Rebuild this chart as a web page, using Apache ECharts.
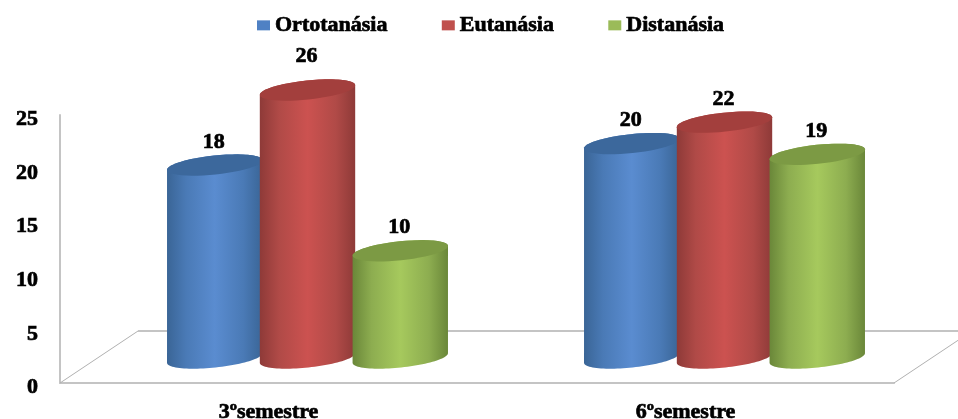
<!DOCTYPE html>
<html>
<head>
<meta charset="utf-8">
<style>
html,body{margin:0;padding:0;background:#fff}
#c{width:958px;height:419px;filter:blur(0.6px)}
</style>
<script src="https://cdn.jsdelivr.net/npm/echarts@6/dist/echarts.min.js"></script>
</head>
<body>
<div id="c"></div>
<script>
const categories = ['3ºsemestre', '6ºsemestre'];
const seriesNames = ['Ortotanásia', 'Eutanásia', 'Distanásia'];
const ortotanasia = [18, 20];
const eutanasia = [26, 22];
const distanasia = [10, 19];
const yTicks = { min: 0, max: 25, interval: 5 };

const FONT = '"Liberation Serif", serif';
const palette = [
  { solid: '#4f81c4', top: '#3c689c', edge: '#3a6596', mid: '#4a7ab6', light: '#5a8cd0' },
  { solid: '#c0504d', top: '#a33f3d', edge: '#8e3a38', mid: '#b04a47', light: '#cc5250' },
  { solid: '#9bbb59', top: '#7c9a44', edge: '#6a8739', mid: '#8dad50', light: '#a6c95d' }
];
const DEPTH_X = 39, DEPTH_Y = -25, THETA = -6 * Math.PI / 180;
const HEAVY = { textBorderColor: '#000', textBorderWidth: 0.7 };

const chart = echarts.init(document.getElementById('c'), null, { renderer: 'canvas' });

function ellPoint(cx, cy, rx, ry, t) {
  const c = Math.cos(t), s = Math.sin(t);
  return [cx + rx * c * Math.cos(THETA) - ry * s * Math.sin(THETA),
          cy + rx * c * Math.sin(THETA) + ry * s * Math.cos(THETA)];
}
function ellipsePts(cx, cy, rx, ry, a, b) {
  const pts = [];
  for (let i = 0; i <= 48; i++) pts.push(ellPoint(cx, cy, rx, ry, a + (b - a) * i / 48));
  return pts;
}

function cylinder(seriesIdx) {
  return function (params, api) {
    const cat = api.value(0), val = api.value(1);
    const catW = api.size([1, 0])[0];
    const clipped = Math.min(val, yTicks.max);
    const base = api.coord([cat, 0]);
    const topC = api.coord([cat, clipped]);
    const raw = api.coord([cat, val]);
    const cx = base[0] + DEPTH_X + (seriesIdx - 1) * catW * 0.2225;
    const rx = catW * 0.115, ry = 9.5;
    const by = base[1] + DEPTH_Y, ty = topC[1] + DEPTH_Y;
    const p = palette[seriesIdx];
    const lower = ellipsePts(cx, by, rx, ry, 0, Math.PI);
    const upper = ellipsePts(cx, ty, rx, ry, Math.PI, 2 * Math.PI);
    const body = lower.concat(upper);
    const grad = new echarts.graphic.LinearGradient(0, 0, 1, 0, [
      { offset: 0, color: p.edge }, { offset: 0.2, color: p.mid },
      { offset: 0.5, color: p.light }, { offset: 0.8, color: p.mid },
      { offset: 1, color: p.edge }
    ]);
    return {
      type: 'group',
      children: [
        { type: 'polygon', shape: { points: body }, style: { fill: grad } },
        { type: 'polygon', shape: { points: ellipsePts(cx, ty, rx, ry, 0, 2 * Math.PI) }, style: { fill: p.top } },
        { type: 'text', style: {
            text: String(val), x: cx - 1, y: raw[1] - 48,
            align: 'center', verticalAlign: 'middle',
            font: 'bold 22px ' + FONT, fill: '#000', stroke: '#000', lineWidth: 0.7
        } }
      ]
    };
  };
}

function floor(params) {
  const g = params.coordSys;
  const x0 = g.x, x1 = g.x + g.width, y0 = g.y + g.height;
  const bx = 78, by = 52;
  const line = (a, b, w, c) => ({ type: 'line', shape: { x1: a[0], y1: a[1], x2: b[0], y2: b[1] },
    style: { stroke: c, lineWidth: w } });
  return { type: 'group', children: [
    line([x0 + bx, y0 - by], [x1 + bx, y0 - by], 2, '#c4c4c4'),
    line([x0, y0], [x0 + bx, y0 - by], 1, '#b0b0b0'),
    line([x1, y0], [x1 + bx, y0 - by], 1, '#b0b0b0')
  ] };
}

const rows = arr => arr.map((v, i) => [i, v]);
const values = [ortotanasia, eutanasia, distanasia];

chart.setOption({
  animation: false,
  color: palette.map(p => p.solid),
  legend: {
    data: seriesNames, left: 252, top: 9, itemWidth: 13, itemHeight: 10, itemGap: 54,
    icon: 'rect',
    textStyle: Object.assign({ fontFamily: FONT, fontWeight: 'bold', fontSize: 22, color: '#000' }, HEAVY)
  },
  grid: { left: 60, right: 64, top: 115, bottom: 36, outerBoundsMode: 'none' },
  xAxis: {
    type: 'category', data: categories,
    axisLine: { show: true, lineStyle: { color: '#c4c4c4', width: 2 } },
    axisTick: { show: false }, splitLine: { show: false },
    axisLabel: Object.assign({ fontFamily: FONT, fontWeight: 'bold', fontSize: 22, color: '#000', margin: 18 }, HEAVY)
  },
  yAxis: {
    type: 'value', min: yTicks.min, max: yTicks.max, interval: yTicks.interval,
    axisLine: { show: true, lineStyle: { color: '#c4c4c4', width: 2 } },
    axisTick: { show: false }, splitLine: { show: false },
    axisLabel: Object.assign({ fontFamily: FONT, fontWeight: 'bold', fontSize: 22, color: '#000', margin: 22,
      verticalAlign: 'top', lineHeight: 9 }, HEAVY)
  },
  series: [
    { type: 'custom', name: '_floor', silent: true, z: 1, data: [[0, 0]], renderItem: floor,
      encode: { x: 0, y: 1 } }
  ].concat(seriesNames.map((n, i) => ({
    type: 'custom', name: n, z: 2 + i, data: rows(values[i]), renderItem: cylinder(i),
    encode: { x: 0, y: 1 }, itemStyle: { color: palette[i].solid }
  })))
});
</script>
</body>
</html>
